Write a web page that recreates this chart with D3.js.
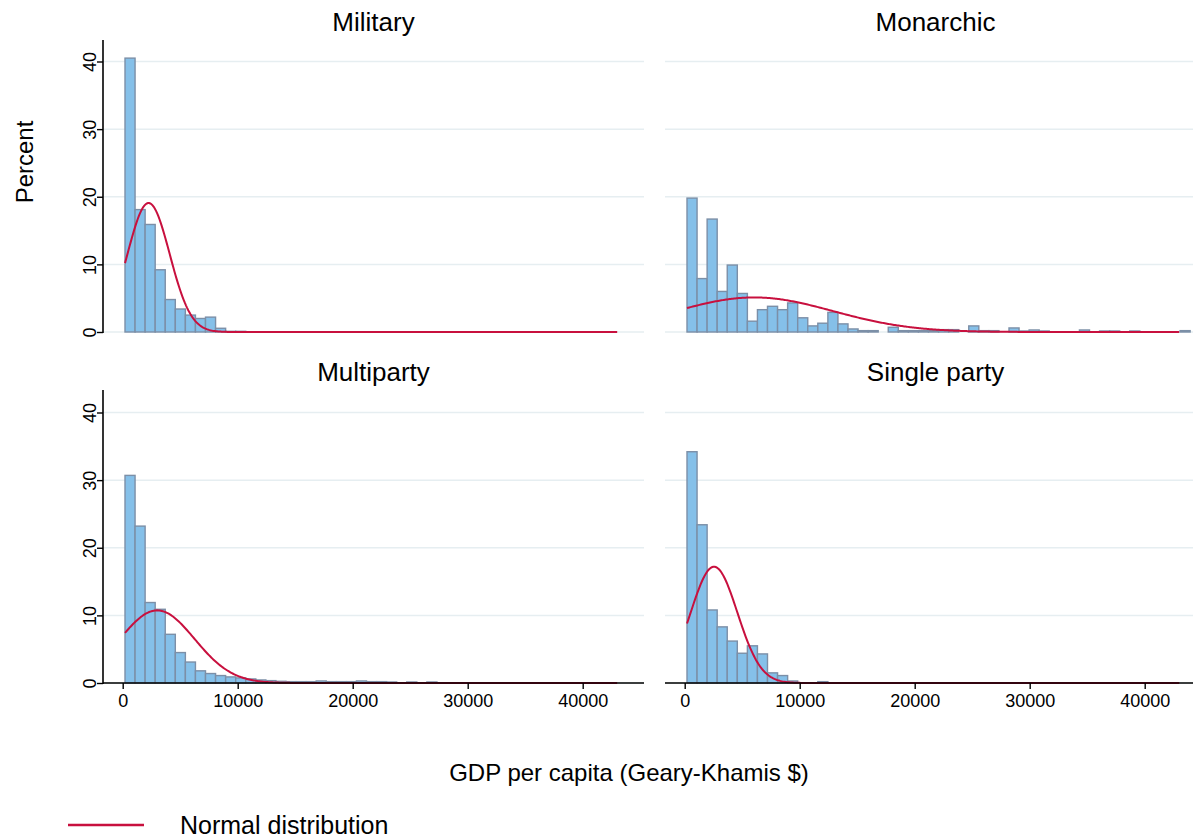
<!DOCTYPE html>
<html>
<head>
<meta charset="utf-8">
<script src="https://cdn.jsdelivr.net/npm/d3@7"></script>
<style>
  html, body { margin: 0; padding: 0; background: #fff; }
  svg { display: block; font-family: "Liberation Sans", Arial, sans-serif; }
</style>
</head>
<body>
<svg id="chart" width="1193" height="840"></svg>
<script>
// Histogram bins shared by every panel (GDP per capita, Geary-Khamis $)
const binStart = 200;
const binWidth = 875;

const panelNames = ["Military", "Monarchic", "Multiparty", "Single party"];

// Percent of observations in each bin, from the first bin onward
const militaryPct = [40.5, 18.1, 15.9, 9.2, 4.8, 3.4, 2.5, 2.0, 2.2, 0.55, 0.1, 0.1];
const monarchicPct = [19.8, 7.9, 16.7, 6.0, 9.9, 5.7, 1.6, 3.3, 3.8, 3.3, 4.3, 2.1, 0.9, 1.3, 2.9, 1.2,
  0.45, 0.2, 0.2, 0, 0.7, 0.2, 0.2, 0.2, 0.2, 0.35, 0.35, 0, 0.9, 0.2, 0.2, 0, 0.6, 0.15, 0.3, 0.15,
  0, 0, 0, 0.3, 0, 0.15, 0.15, 0, 0.15, 0, 0, 0, 0, 0.2];
const multipartyPct = [30.7, 23.2, 11.9, 10.9, 7.2, 4.5, 3.1, 1.8, 1.4, 1.1, 0.9, 0.75, 0.6, 0.45, 0.35,
  0.25, 0.2, 0.2, 0.2, 0.3, 0.2, 0.2, 0.2, 0.3, 0.2, 0.2, 0.15, 0, 0.15, 0, 0.15];
const singlePartyPct = [34.2, 23.4, 10.8, 8.3, 6.2, 4.4, 5.5, 4.3, 1.5, 1.1, 0.3, 0, 0, 0.2];

// Fitted normal distribution for each regime type
const normalMean = [2250, 6050, 3000, 2550];
const normalSD = [1830, 6830, 3250, 2030];
const curveFrom = 200;
const curveTo = 43000;

const xTicks = [0, 10000, 20000, 30000, 40000];
const yTicks = [0, 10, 20, 30, 40];

const xTitle = "GDP per capita (Geary-Khamis $)";
const yTitle = "Percent";
const legendLabel = "Normal distribution";

const series = [militaryPct, monarchicPct, multipartyPct, singlePartyPct];

// ---- layout ----
const svg = d3.select("#chart");
const panelW = 541;
const colX = [103, 665];
const rowTop = [40, 390];       // top of each plot region
const rowZero = [332, 683];     // pixel row of 0 percent
const ySpan = 270.5;            // pixels from 0 to 40 percent

const barFill = "#85c0e9";
const barStroke = "#7c8fa7";
const curveColor = "#c8103e";
const gridColor = "#e6eef1";

panelNames.forEach((name, p) => {
  const col = p % 2, row = Math.floor(p / 2);
  const x0 = colX[col];
  const x = d3.scaleLinear().domain([0, 40000]).range([x0 + 19.7, x0 + 19.7 + 460]);
  const y = d3.scaleLinear().domain([0, 40]).range([rowZero[row], rowZero[row] - ySpan]);
  const g = svg.append("g");

  // horizontal grid
  g.selectAll("line.grid").data(yTicks).join("line")
    .attr("x1", x0).attr("x2", x0 + panelW)
    .attr("y1", d => y(d)).attr("y2", d => y(d))
    .attr("stroke", gridColor).attr("stroke-width", 1.5);

  // strip title
  g.append("text")
    .attr("x", x0 + panelW / 2).attr("y", rowTop[row] - 9)
    .attr("text-anchor", "middle").attr("font-size", 26).attr("fill", "#000")
    .text(name);

  // bars
  const bins = series[p].map((v, i) => ({ v, lo: binStart + i * binWidth, hi: binStart + (i + 1) * binWidth }))
    .filter(d => d.v > 0);
  g.selectAll("rect.bar").data(bins).join("rect")
    .attr("x", d => x(d.lo)).attr("width", d => x(d.hi) - x(d.lo))
    .attr("y", d => y(d.v)).attr("height", d => y(0) - y(d.v))
    .attr("fill", barFill).attr("stroke", barStroke).attr("stroke-width", 1.4);

  // normal curve
  const mu = normalMean[p], sd = normalSD[p];
  const pts = d3.range(curveFrom, curveTo + 1, 100).map(v => [v,
    100 * binWidth * Math.exp(-((v - mu) ** 2) / (2 * sd * sd)) / (sd * Math.sqrt(2 * Math.PI))]);
  g.append("path")
    .attr("d", d3.line().x(d => x(d[0])).y(d => y(d[1]))(pts))
    .attr("fill", "none").attr("stroke", curveColor).attr("stroke-width", 2);

  // y axis on the left column
  if (col === 0) {
    const ax = g.append("g").attr("transform", `translate(${x0},0)`)
      .call(d3.axisLeft(y).tickValues(yTicks).tickSize(6).tickPadding(4).tickFormat(d3.format("d")));
    ax.select(".domain").attr("d", `M0,${rowTop[row]}V${rowZero[row] + 1}`).attr("stroke-width", 1.6);
    ax.selectAll(".tick line").attr("stroke-width", 1.4);
    ax.selectAll(".tick text")
      .attr("font-size", 18).attr("font-family", "Liberation Sans, Arial, sans-serif")
      .attr("text-anchor", "middle").attr("x", 0).attr("dy", 0)
      .attr("transform", "translate(-7,0) rotate(-90)");
  }

  // x axis on the bottom row
  if (row === 1) {
    const ax = g.append("g").attr("transform", `translate(0,${rowZero[row]})`)
      .call(d3.axisBottom(x).tickValues(xTicks).tickSize(6).tickPadding(5).tickFormat(d3.format("d")));
    ax.select(".domain").attr("d", `M${x0},0H${x0 + panelW}`).attr("stroke-width", 1.6);
    ax.selectAll(".tick line").attr("stroke-width", 1.4);
    ax.selectAll(".tick text").attr("font-size", 18).attr("font-family", "Liberation Sans, Arial, sans-serif");
  }
});

// axis titles
svg.append("text")
  .attr("x", 629).attr("y", 781).attr("text-anchor", "middle")
  .attr("font-size", 24).text(xTitle);
svg.append("text")
  .attr("transform", "translate(33,162) rotate(-90)").attr("text-anchor", "middle")
  .attr("font-size", 24).text(yTitle);

// legend
svg.append("line").attr("x1", 68).attr("x2", 144).attr("y1", 825).attr("y2", 825)
  .attr("stroke", curveColor).attr("stroke-width", 2.5);
svg.append("text").attr("x", 180).attr("y", 834).attr("font-size", 25).text(legendLabel);
</script>
</body>
</html>
